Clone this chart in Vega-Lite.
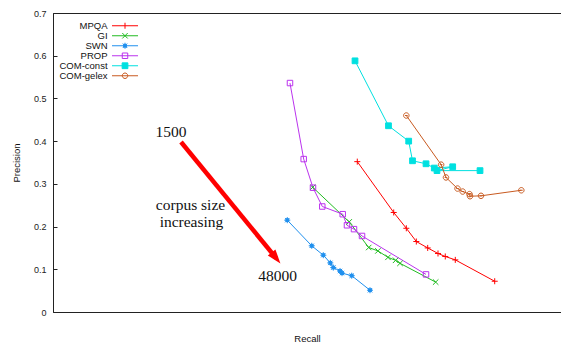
{
  "$schema": "https://vega.github.io/schema/vega-lite/v6.json",
  "width": 508,
  "height": 299,
  "autosize": {"type": "none"},
  "padding": {"left": 53, "top": 13, "right": 0, "bottom": 31},
  "config": {
    "view": {"stroke": "#222", "strokeWidth": 1},
    "font": "Liberation Sans"
  },
  "datasets": {
    "pts": [
      {"series": "MPQA", "order": 1, "recall": 0.599, "precision": 0.352},
      {"series": "MPQA", "order": 2, "recall": 0.6707, "precision": 0.233},
      {"series": "MPQA", "order": 3, "recall": 0.6955, "precision": 0.196},
      {"series": "MPQA", "order": 4, "recall": 0.7152, "precision": 0.165},
      {"series": "MPQA", "order": 5, "recall": 0.7376, "precision": 0.15},
      {"series": "MPQA", "order": 6, "recall": 0.7579, "precision": 0.137},
      {"series": "MPQA", "order": 7, "recall": 0.7722, "precision": 0.13},
      {"series": "MPQA", "order": 8, "recall": 0.7919, "precision": 0.122},
      {"series": "MPQA", "order": 9, "recall": 0.8695, "precision": 0.072},
      {"series": "GI", "order": 1, "recall": 0.5112, "precision": 0.292},
      {"series": "GI", "order": 2, "recall": 0.5831, "precision": 0.211},
      {"series": "GI", "order": 3, "recall": 0.6215, "precision": 0.151},
      {"series": "GI", "order": 4, "recall": 0.6396, "precision": 0.143},
      {"series": "GI", "order": 5, "recall": 0.6594, "precision": 0.128},
      {"series": "GI", "order": 6, "recall": 0.6744, "precision": 0.121},
      {"series": "GI", "order": 7, "recall": 0.6831, "precision": 0.114},
      {"series": "GI", "order": 8, "recall": 0.7533, "precision": 0.07},
      {"series": "SWN", "order": 1, "recall": 0.4612, "precision": 0.215},
      {"series": "SWN", "order": 2, "recall": 0.5093, "precision": 0.155},
      {"series": "SWN", "order": 3, "recall": 0.5321, "precision": 0.133},
      {"series": "SWN", "order": 4, "recall": 0.5459, "precision": 0.115},
      {"series": "SWN", "order": 5, "recall": 0.5518, "precision": 0.104},
      {"series": "SWN", "order": 6, "recall": 0.565, "precision": 0.096},
      {"series": "SWN", "order": 7, "recall": 0.5689, "precision": 0.091},
      {"series": "SWN", "order": 8, "recall": 0.588, "precision": 0.085},
      {"series": "SWN", "order": 9, "recall": 0.624, "precision": 0.051},
      {"series": "PROP", "order": 1, "recall": 0.4665, "precision": 0.536},
      {"series": "PROP", "order": 2, "recall": 0.4935, "precision": 0.358},
      {"series": "PROP", "order": 3, "recall": 0.5118, "precision": 0.291},
      {"series": "PROP", "order": 4, "recall": 0.5301, "precision": 0.247},
      {"series": "PROP", "order": 5, "recall": 0.5703, "precision": 0.229},
      {"series": "PROP", "order": 6, "recall": 0.5787, "precision": 0.203},
      {"series": "PROP", "order": 7, "recall": 0.5925, "precision": 0.194},
      {"series": "PROP", "order": 8, "recall": 0.6083, "precision": 0.178},
      {"series": "PROP", "order": 9, "recall": 0.7343, "precision": 0.088},
      {"series": "COM-const", "order": 1, "recall": 0.5945, "precision": 0.588},
      {"series": "COM-const", "order": 2, "recall": 0.6604, "precision": 0.436},
      {"series": "COM-const", "order": 3, "recall": 0.7002, "precision": 0.4},
      {"series": "COM-const", "order": 4, "recall": 0.7077, "precision": 0.354},
      {"series": "COM-const", "order": 5, "recall": 0.7343, "precision": 0.347},
      {"series": "COM-const", "order": 6, "recall": 0.7506, "precision": 0.337},
      {"series": "COM-const", "order": 7, "recall": 0.7868, "precision": 0.34},
      {"series": "COM-const", "order": 8, "recall": 0.7559, "precision": 0.331},
      {"series": "COM-const", "order": 9, "recall": 0.8406, "precision": 0.331},
      {"series": "COM-gelex", "order": 1, "recall": 0.6955, "precision": 0.46},
      {"series": "COM-gelex", "order": 2, "recall": 0.764, "precision": 0.345},
      {"series": "COM-gelex", "order": 3, "recall": 0.7736, "precision": 0.315},
      {"series": "COM-gelex", "order": 4, "recall": 0.7963, "precision": 0.289},
      {"series": "COM-gelex", "order": 5, "recall": 0.8065, "precision": 0.282},
      {"series": "COM-gelex", "order": 6, "recall": 0.8199, "precision": 0.276},
      {"series": "COM-gelex", "order": 7, "recall": 0.8209, "precision": 0.271},
      {"series": "COM-gelex", "order": 8, "recall": 0.8425, "precision": 0.272},
      {"series": "COM-gelex", "order": 9, "recall": 0.9219, "precision": 0.285}
    ],
    "notes": [
      {"label": "1500", "recall": 0.2323, "precision": 0.4215},
      {"label": "corpus size", "recall": 0.2707, "precision": 0.2494},
      {"label": "increasing", "recall": 0.2726, "precision": 0.2096},
      {"label": "48000", "recall": 0.4423, "precision": 0.0843}
    ],
    "arrow": [
      {"recall": 0.252, "precision": 0.398, "recall_end": 0.439, "precision_end": 0.1265}
    ]
  },
  "encoding": {
    "x": {
      "field": "recall", "type": "quantitative",
      "scale": {"domain": [0, 1], "nice": false, "zero": false},
      "axis": {"title": "Recall", "labels": false, "ticks": false, "domain": false, "grid": false,
               "titleFont": "Liberation Sans", "titleFontSize": 9.5, "titleFontWeight": "normal", "titleColor": "#111", "titlePadding": 21}
    },
    "y": {
      "field": "precision", "type": "quantitative",
      "scale": {"domain": [0, 0.7], "nice": false, "zero": false},
      "axis": {"title": "Precision", "values": [0, 0.1, 0.2, 0.3, 0.4, 0.5, 0.6, 0.7],
               "labelExpr": "datum.value == 0 ? '0' : format(datum.value, '.1f')",
               "grid": false, "domain": true, "domainColor": "#222", "tickColor": "#222", "tickSize": -4,
               "labelPadding": 11, "labelFont": "Liberation Sans", "labelFontSize": 9, "labelColor": "#222",
               "titleFont": "Liberation Sans", "titleFontSize": 9.5, "titleFontWeight": "normal", "titleColor": "#111", "titlePadding": 12}
    }
  },
  "layer": [
    {
      "data": {"name": "pts"},
      "mark": {"type": "line", "strokeWidth": 1},
      "encoding": {
        "color": {"field": "series", "type": "nominal",
          "scale": {"domain": ["MPQA", "GI", "SWN", "PROP", "COM-const", "COM-gelex"],
                    "range": ["#ff0000", "#22bb22", "#2090ee", "#bb33ee", "#00e0e0", "#c85a20"]},
          "legend": null},
        "order": {"field": "order", "type": "quantitative"}
      }
    },
    {
      "data": {"name": "pts"},
      "mark": {"type": "point", "filled": false, "size": 30, "strokeWidth": 1, "opacity": 1, "fillOpacity": 1},
      "encoding": {
        "shape": {"field": "series", "type": "nominal",
          "scale": {"domain": ["MPQA", "GI", "SWN", "PROP", "COM-const", "COM-gelex"],
                    "range": [
                      "M-1.1,0H1.1M0,-1.1V1.1",
                      "M-1,-1L1,1M-1,1L1,-1",
                      "M-1.1,0H1.1M0,-1.1V1.1M-0.8,-0.8L0.8,0.8M-0.8,0.8L0.8,-0.8M-0.5,-0.5H0.5V0.5H-0.5Z",
                      "M-1,-1H1V1H-1Z",
                      "M-1.05,-1.05H1.05V1.05H-1.05Z",
                      "M-1,0A1,1,0,1,1,1,0A1,1,0,1,1,-1,0ZM-0.5,0H0.5"
                    ]},
          "legend": null},
        "stroke": {"field": "series", "type": "nominal",
          "scale": {"domain": ["MPQA", "GI", "SWN", "PROP", "COM-const", "COM-gelex"],
                    "range": ["#ff0000", "#22bb22", "#2090ee", "#bb33ee", "#00e0e0", "#c85a20"]},
          "legend": null},
        "fill": {"field": "series", "type": "nominal",
          "scale": {"domain": ["MPQA", "GI", "SWN", "PROP", "COM-const", "COM-gelex"],
                    "range": ["transparent", "transparent", "#2090ee", "transparent", "#00e0e0", "transparent"]},
          "legend": null}
      }
    },
    {
      "data": {"name": "pts"},
      "transform": [{"filter": "false"}],
      "mark": {"type": "point", "filled": false, "size": 30, "strokeWidth": 1, "opacity": 1, "fillOpacity": 1},
      "encoding": {
        "shape": {"field": "series", "type": "nominal",
          "scale": {"domain": ["MPQA", "GI", "SWN", "PROP", "COM-const", "COM-gelex"],
                    "range": [
                      "M-4.75,0H4.75M0,-1.1V1.1",
                      "M-4.75,0H4.75M-1,-1L1,1M-1,1L1,-1",
                      "M-4.75,0H4.75M0,-1.1V1.1M-0.8,-0.8L0.8,0.8M-0.8,0.8L0.8,-0.8M-0.5,-0.5H0.5V0.5H-0.5Z",
                      "M-4.75,0H4.75M-1,-1H1V1H-1Z",
                      "M-4.75,0H4.75M-1.05,-1.05H1.05V1.05H-1.05Z",
                      "M-4.75,0H4.75M-1,0A1,1,0,1,1,1,0A1,1,0,1,1,-1,0Z"
                    ]},
          "legend": {"title": null, "orient": "none", "legendX": 67.26, "legendY": 8.0, "labelAlign": "right", "labelOffset": -22.2,
                     "rowPadding": -1.2, "symbolSize": 30, "symbolStrokeWidth": 1, "labelFont": "Liberation Sans", "labelFontSize": 9.5, "labelColor": "#111", "padding": 0}},
        "stroke": {"field": "series", "type": "nominal",
          "scale": {"domain": ["MPQA", "GI", "SWN", "PROP", "COM-const", "COM-gelex"],
                    "range": ["#ff0000", "#22bb22", "#2090ee", "#bb33ee", "#00e0e0", "#c85a20"]},
          "legend": {"title": null, "orient": "none", "legendX": 67.26, "legendY": 8.0, "labelAlign": "right", "labelOffset": -22.2,
                     "rowPadding": -1.2, "symbolSize": 30, "symbolStrokeWidth": 1, "labelFont": "Liberation Sans", "labelFontSize": 9.5, "labelColor": "#111", "padding": 0}},
        "fill": {"field": "series", "type": "nominal",
          "scale": {"domain": ["MPQA", "GI", "SWN", "PROP", "COM-const", "COM-gelex"],
                    "range": ["transparent", "transparent", "#2090ee", "transparent", "#00e0e0", "transparent"]},
          "legend": {"title": null, "orient": "none", "legendX": 67.26, "legendY": 8.0, "labelAlign": "right", "labelOffset": -22.2,
                     "rowPadding": -1.2, "symbolSize": 30, "symbolStrokeWidth": 1, "labelFont": "Liberation Sans", "labelFontSize": 9.5, "labelColor": "#111", "padding": 0}}
      }
    },
    {
      "data": {"name": "arrow"},
      "mark": {"type": "rule", "color": "#ff0000", "strokeWidth": 4.5},
      "encoding": {
        "x2": {"field": "recall_end"},
        "y2": {"field": "precision_end"}
      }
    },
    {
      "data": {"name": "arrow"},
      "mark": {"type": "point", "shape": "M-0.7,-1L0.7,-1L0,1Z", "filled": true, "color": "#ff0000", "opacity": 1, "size": 196, "angle": 321},
      "encoding": {
        "x": {"field": "recall_end", "type": "quantitative"},
        "y": {"field": "precision_end", "type": "quantitative"}
      }
    },
    {
      "data": {"name": "notes"},
      "mark": {"type": "text", "font": "Liberation Serif", "fontSize": 15.5, "baseline": "middle", "align": "center", "color": "#111"},
      "encoding": {
        "text": {"field": "label", "type": "nominal"}
      }
    }
  ],
  "resolve": {
    "scale": {"color": "independent", "shape": "independent", "stroke": "independent", "fill": "independent"},
    "legend": {"color": "independent", "shape": "independent", "stroke": "independent", "fill": "independent"}
  }
}
